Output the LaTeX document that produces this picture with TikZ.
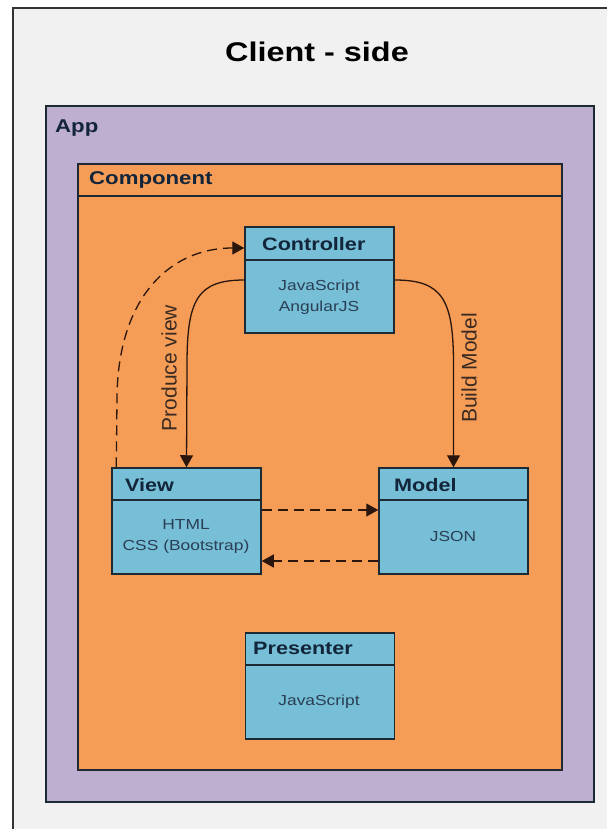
\documentclass[tikz,border=0pt]{standalone}
\usepackage{fontspec}
\setmainfont{Liberation Sans}[FakeStretch=1.2]
\newfontfamily\plainsans{Liberation Sans}
\usetikzlibrary{arrows.meta}

\definecolor{pagegray}{HTML}{F1F1F1}
\definecolor{appviolet}{HTML}{BEAFD0}
\definecolor{comporange}{HTML}{F59D56}
\definecolor{boxblue}{HTML}{76BFD6}
\definecolor{boxline}{HTML}{1E2A33}
\definecolor{titleink}{HTML}{13253A}
\definecolor{bodyink}{HTML}{2A3E55}
\definecolor{arrowink}{HTML}{2A160C}
\definecolor{labelink}{HTML}{3A2A22}

\tikzset{
  frameline/.style={draw=boxline, line width=1.5pt},
  classbox/.style={frameline, fill=boxblue, minimum width=149pt,
    minimum height=106pt, inner sep=0pt},
  boxtitle/.style={anchor=west, inner sep=0pt, text=titleink,
    font=\fontsize{18}{20}\selectfont\bfseries},
  boxbody/.style={inner sep=0pt, align=center, text=bodyink,
    font=\fontsize{14.5}{21}\selectfont},
  grouplabel/.style={anchor=west, inner sep=0pt, text=titleink,
    font=\fontsize{18.5}{20}\selectfont\bfseries},
  flowlabel/.style={inner sep=0pt, rotate=90, text=labelink,
    font=\plainsans\fontsize{21}{24}\selectfont},
  flow/.style={draw=arrowink, line width=1.3pt,
    -{Triangle[length=12pt,width=13pt]}},
  weakflow/.style={flow, dash pattern=on 10pt off 6pt}
}

\begin{document}
\begin{tikzpicture}[x=1pt, y=-1pt]
  \useasboundingbox (0,0) rectangle (607,829);
  \clip (0,0) rectangle (607,829);

  % page and its frame
  \fill[white] (0,0) rectangle (607,829);
  \fill[pagegray] (13,8) rectangle (607,829);
  \draw[draw=black!80, line width=1.2pt] (13,829) -- (13,8) -- (607,8);

  \node[inner sep=0pt, text=black, font=\fontsize{27}{30}\selectfont\bfseries]
    (title) at (317,52) {Client - side};

  % application layer
  \node[frameline, fill=appviolet, minimum width=548pt, minimum height=696pt,
    inner sep=0pt] (app) at (320,454) {};
  \node[grouplabel] (applabel) at (55,128) {App};

  % component layer with its header strip
  \node[frameline, fill=comporange, minimum width=484pt, minimum height=606pt,
    inner sep=0pt] (comp) at (320,467) {};
  \draw[frameline] (78,196) -- (562,196);
  \node[grouplabel] (complabel) at (89,180) {Component};

  % classes
  \node[classbox] (ctrl) at (319.5,280) {};
  \draw[frameline] (245,260) -- (394,260);
  \node[boxtitle] (ctrltitle) at (262,244) {Controller};
  \node[boxbody] (ctrlbody) at (319,297) {JavaScript\\AngularJS};

  \node[classbox] (view) at (186.5,521) {};
  \draw[frameline] (112,500) -- (261,500);
  \node[boxtitle] (viewtitle) at (125,485) {View};
  \node[boxbody] (viewbody) at (186,537) {HTML\\CSS (Bootstrap)};

  \node[classbox] (model) at (453.5,521) {};
  \draw[frameline] (379,500) -- (528,500);
  \node[boxtitle] (modeltitle) at (394,485) {Model};
  \node[boxbody] (modelbody) at (453,537) {JSON};

  \node[classbox] (pres) at (320,686) {};
  \draw[frameline] (246,665) -- (394,665);
  \node[boxtitle] (prestitle) at (253,648) {Presenter};
  \node[boxbody] (presbody) at (319,702) {JavaScript};

  % controller produces the view and builds the model
  \draw[flow] (ctrl.west) .. controls (197,280) and (187,300) .. (187,365)
    -- (view.north);
  \draw[flow] (ctrl.east) .. controls (443,280) and (453.5,300) .. (453.5,365)
    -- (model.north);
  \node[flowlabel] (producelabel) at (169,368) {Produce view};
  \node[flowlabel] (buildlabel) at (469,368) {Build Model};

  % view reports back to the controller
  \draw[weakflow] ([xshift=5pt]view.north west) -- (117,400)
    .. controls (117,300) and (168,248) .. ([yshift=32pt]ctrl.west);

  % view and model exchange data
  \draw[weakflow] ([yshift=11pt]view.east) -- ([yshift=11pt]model.west);
  \draw[weakflow] ([yshift=-40pt]model.west) -- ([yshift=-40pt]view.east);
\end{tikzpicture}
\end{document}
